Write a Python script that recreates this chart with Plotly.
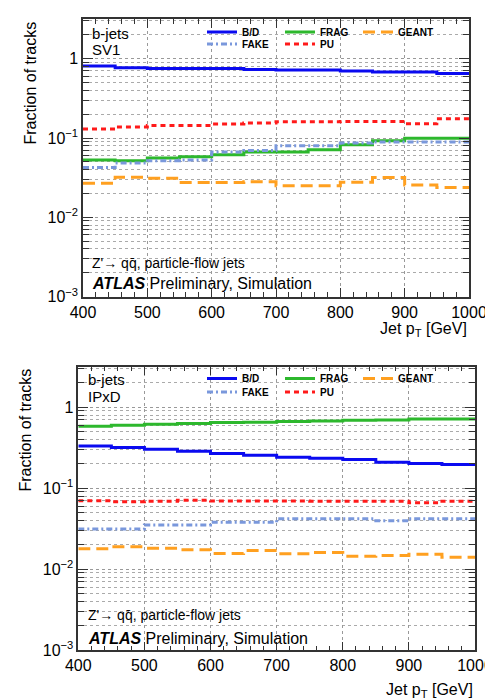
import plotly.graph_objects as go

# ---------------- data ----------------
bin_edges = [400, 450, 500, 550, 600, 650, 700, 750, 800, 850, 900, 950, 1000]

# SV1 panel (top)
sv1_bd    = [0.81, 0.77, 0.75, 0.75, 0.75, 0.73, 0.72, 0.72, 0.70, 0.68, 0.68, 0.65]
sv1_frag  = [0.053, 0.0516, 0.0558, 0.058, 0.0615, 0.0665, 0.0665, 0.0711, 0.0823, 0.0924, 0.099, 0.099]
sv1_geant = [0.0269, 0.032, 0.0312, 0.0274, 0.0274, 0.0282, 0.0251, 0.0251, 0.0277, 0.0317, 0.0256, 0.0237]
sv1_fake  = [0.0425, 0.0483, 0.0516, 0.0527, 0.0665, 0.0697, 0.080, 0.080, 0.0864, 0.089, 0.089, 0.089]
sv1_pu    = [0.130, 0.138, 0.144, 0.144, 0.150, 0.155, 0.160, 0.160, 0.162, 0.162, 0.151, 0.175]

# IPxD panel (bottom)
ipxd_bd    = [0.333, 0.318, 0.303, 0.286, 0.268, 0.255, 0.241, 0.235, 0.226, 0.209, 0.202, 0.196]
ipxd_frag  = [0.582, 0.600, 0.617, 0.629, 0.647, 0.653, 0.666, 0.678, 0.691, 0.697, 0.717, 0.717]
ipxd_geant = [0.0179, 0.0189, 0.0182, 0.0174, 0.0156, 0.0170, 0.0155, 0.0161, 0.0145, 0.0148, 0.0153, 0.0141]
ipxd_fake  = [0.0315, 0.0315, 0.0353, 0.0353, 0.038, 0.038, 0.0419, 0.0419, 0.0419, 0.0396, 0.042, 0.042]
ipxd_pu    = [0.0703, 0.068, 0.069, 0.071, 0.0695, 0.0695, 0.0695, 0.069, 0.069, 0.069, 0.066, 0.069]

y_tickvals = [1e-3, 1e-2, 1e-1, 1]
y_ticktext = ["10<sup>\u22123</sup>", "10<sup>\u22122</sup>", "10<sup>\u22121</sup>", "1"]
x_tickvals = [400, 500, 600, 700, 800, 900, 1000]

# ---------------- style ----------------
FONT = "Liberation Sans, Arial, Helvetica, sans-serif"
W, H = 485, 700
styles = {
    "B/D":   dict(color="#0a0af0", width=3, dash="solid"),
    "FRAG":  dict(color="#2db82d", width=3, dash="solid"),
    "GEANT": dict(color="#ffa020", width=3, dash="12px,6px"),
    "FAKE":  dict(color="#7a98dc", width=3, dash="6px,3px,2px,3px"),
    "PU":    dict(color="#ff1a1a", width=3, dash="5px,4px"),
}

def steps(vals):
    return vals + [vals[-1]]

fig = go.Figure()

panels = [
    ("x", "y", {"B/D": sv1_bd, "FRAG": sv1_frag, "GEANT": sv1_geant, "FAKE": sv1_fake, "PU": sv1_pu}, "legend", "legend2"),
    ("x2", "y2", {"B/D": ipxd_bd, "FRAG": ipxd_frag, "GEANT": ipxd_geant, "FAKE": ipxd_fake, "PU": ipxd_pu}, "legend3", "legend4"),
]
for xa, ya, series, leg1, leg2 in panels:
    for name in ["B/D", "FRAG", "GEANT", "FAKE", "PU"]:
        fig.add_trace(go.Scatter(
            x=bin_edges, y=steps(series[name]), mode="lines", line_shape="hv",
            line=styles[name], name=name, xaxis=xa, yaxis=ya,
            legend=leg1 if name in ("B/D", "FRAG", "GEANT") else leg2,
            hoverinfo="skip",
        ))

def px_x(p):
    return p / W

def px_y(p):
    return 1 - p / H

xdom_top = [px_x(83), px_x(469)]
ydom_top = [px_y(296.7), px_y(19)]
xdom_bot = [px_x(78.3), px_x(475)]
ydom_bot = [px_y(650.3), px_y(366.7)]

minor_y = [m * 10 ** e for e in range(-3, 1) for m in range(2, 10)] + [2, 3]

def xaxis(dom, anchor):
    return dict(
        domain=dom, anchor=anchor, range=[400, 1000], automargin=False,
        tickvals=x_tickvals, ticks="inside", ticklen=9, tickwidth=1, tickcolor="#333",
        showline=True, linecolor="#333", linewidth=1.5, mirror="allticks",
        showgrid=True, gridcolor="#999", griddash="dot", gridwidth=1,
        zeroline=False, ticklabeloverflow="allow",
        tickfont=dict(family=FONT, size=16, color="black"),
        minor=dict(dtick=20, tick0=400, ticks="inside", ticklen=5, tickcolor="#333", showgrid=False),
    )

def yaxis(dom, anchor):
    return dict(
        domain=dom, anchor=anchor, type="log", range=[-3, 0.5], automargin=False,
        tickvals=y_tickvals, ticktext=y_ticktext,
        ticks="inside", ticklen=10, tickwidth=1, tickcolor="#333",
        showline=True, linecolor="#333", linewidth=1.5, mirror="allticks",
        showgrid=True, gridcolor="#999", griddash="dot", gridwidth=1,
        zeroline=False, ticklabeloverflow="allow",
        tickfont=dict(family=FONT, size=16, color="black"),
        minor=dict(tickvals=minor_y, ticks="inside", ticklen=6, tickcolor="#333",
                   showgrid=True, gridcolor="#aaa", griddash="dot", gridwidth=1),
    )

def legend(xp, yp):
    return dict(
        x=px_x(xp), y=px_y(yp), xanchor="left", yanchor="middle",
        orientation="h", entrywidth=33, bgcolor="rgba(0,0,0,0)",
        font=dict(family=FONT, size=10, color="black", weight="bold"),
        itemwidth=30, tracegroupgap=0,
    )

annotations = []

def text(xp, yp, s, size, xanchor="left", yanchor="middle", angle=0):
    annotations.append(dict(
        x=px_x(xp), y=px_y(yp), xref="paper", yref="paper", text=s, showarrow=False,
        xanchor=xanchor, yanchor=yanchor, textangle=angle,
        font=dict(family=FONT, size=size, color="black"),
    ))

atlas = "<b><i>ATLAS</i></b> Preliminary, Simulation"
zqq = "Z'\u2192 qq\u0304, particle-flow jets"

# top panel texts
text(90, 33, "b-jets", 15)
text(90, 50, "SV1", 15)
text(90, 262.5, zqq, 14)
text(90, 283.5, atlas, 16)
text(30, 20, "Fraction of tracks", 16, xanchor="center", yanchor="top", angle=-90)
text(469, 329, "Jet p<sub>T</sub> [GeV]", 16, xanchor="right")

# bottom panel texts
text(86, 380, "b-jets", 15)
text(86, 396, "IPxD", 15)
text(86, 615, zqq, 14)
text(86, 638.5, atlas, 16)
text(25, 367, "Fraction of tracks", 16, xanchor="center", yanchor="top", angle=-90)
text(475, 690, "Jet p<sub>T</sub> [GeV]", 16, xanchor="right")

fig.update_layout(
    template="none",
    width=W, height=H,
    margin=dict(l=0, r=0, t=0, b=0, pad=0, autoexpand=False),
    paper_bgcolor="white", plot_bgcolor="white",
    font=dict(family=FONT, color="black"),
    xaxis=xaxis(xdom_top, "y"), yaxis=yaxis(ydom_top, "x"),
    xaxis2=xaxis(xdom_bot, "y2"), yaxis2=yaxis(ydom_bot, "x2"),
    legend=legend(202, 32), legend2=legend(202, 44),
    legend3=legend(202, 378.5), legend4=legend(202, 392),
    showlegend=True,
    annotations=annotations,
)

fig.write_html(
    "out.html",
    config={"displayModeBar": False},
    post_script="document.body.style.margin='0px';document.body.style.overflow='hidden';",
)
